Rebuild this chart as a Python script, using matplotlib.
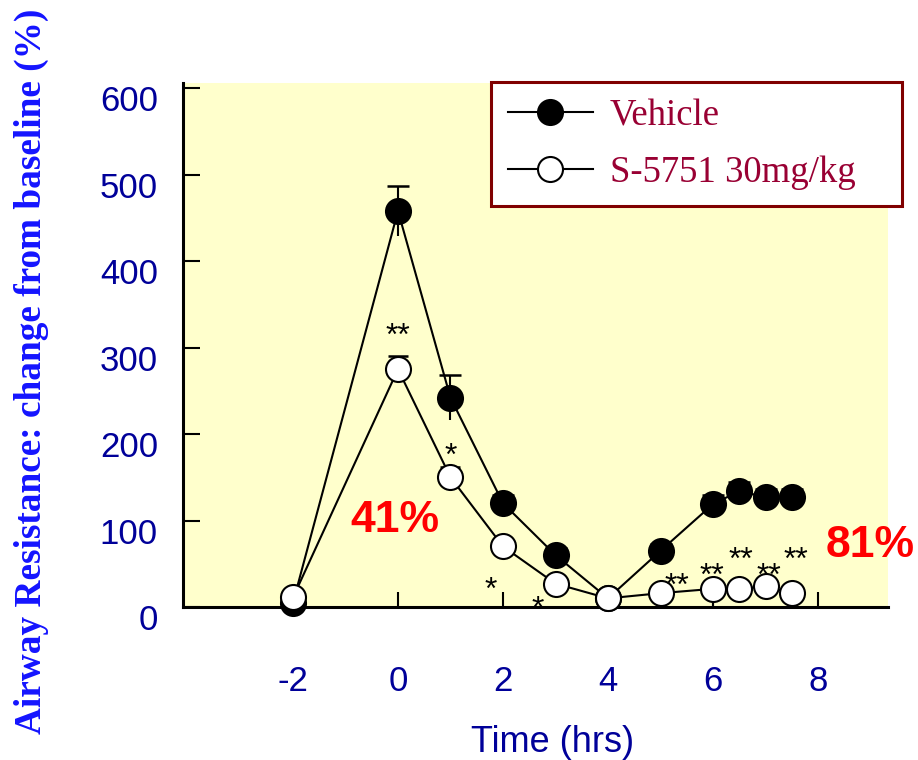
import matplotlib
matplotlib.use('Agg')
import matplotlib.pyplot as plt
from matplotlib.transforms import ScaledTranslation

plt.rcParams['axes.unicode_minus'] = False

# ---- data ----
time = [-2, 0, 1, 2, 3, 4, 5, 6, 6.5, 7, 7.5]
vehicle = [5, 458, 242, 120, 60, 10, 65, 119, 134, 127, 127]
vehicle_err = [3, 29, 26, 10, 8, 3, 8, 10, 10, 10, 10]
s5751 = [11, 275, 150, 70, 27, 10, 16, 21, 21, 24, 16]
s5751_err_low = [3, 15, 12, 6, 5, 3, 5, 21, 6, 6, 5]
s5751_err_up = [3, 15, 12, 6, 5, 3, 5, 5, 6, 6, 5]

xticks = [-2, 0, 2, 4, 6, 8]
yticks = [0, 100, 200, 300, 400, 500, 600]

star_x = [0, 1.01, 1.77, 2.67, 5.31, 5.98, 6.53, 7.07, 7.58]
star_y = [324, 186, 31, 9, 35, 47, 65, 47, 65]
star_txt = ['**', '*', '*', '*', '**', '**', '**', '**', '**']

pct_labels = ['41%', '81%']
pct_x = [-0.05, 9.0]
pct_y = [87, 58]

SANS = 'Liberation Sans'
SERIF = 'Liberation Serif'
NAVY = '#000099'

fig = plt.figure(figsize=(9.18, 7.6), dpi=100)
ax = fig.add_axes([183/918, 1-607/760, (888-183)/918, (607-83)/760])
ax.set_facecolor('#ffffcc')
ax.set_xlim(-4.095, 9.333)
ax.set_ylim(0, 606)

for s in ['top', 'right']:
    ax.spines[s].set_visible(False)
for s in ['left', 'bottom']:
    ax.spines[s].set_linewidth(2.2)
    ax.spines[s].set_color('black')

# error bars (behind markers)
ax.errorbar(time, vehicle, yerr=vehicle_err, fmt='none', ecolor='black',
            elinewidth=1.5, capsize=0, zorder=2.8, clip_on=False)
ax.errorbar(time, s5751, yerr=[s5751_err_low, s5751_err_up], fmt='none', ecolor='black',
            elinewidth=1.5, capsize=0, zorder=2.9, clip_on=False)
# upper caps
ax.plot(time, [v + e for v, e in zip(vehicle, vehicle_err)], linestyle='none',
        marker='_', markersize=16, markeredgewidth=1.8, color='black', zorder=2.8)
ax.plot(time, [v + e for v, e in zip(s5751, s5751_err_up)], linestyle='none',
        marker='_', markersize=15, markeredgewidth=1.8, color='black', zorder=2.9)

l1, = ax.plot(time, vehicle, color='black', lw=1.5, marker='o', markersize=18,
              markerfacecolor='black', markeredgecolor='black', markeredgewidth=1.5,
              zorder=3, clip_on=False, label='Vehicle')
l2, = ax.plot(time, s5751, color='black', lw=1.5, marker='o', markersize=18,
              markerfacecolor='white', markeredgecolor='black', markeredgewidth=1.5,
              zorder=4, clip_on=False, label='S-5751 30mg/kg')

ax.set_xticks(xticks)
ax.set_yticks(yticks)
ax.tick_params(axis='y', direction='in', length=12, width=1.5, pad=18,
               labelsize=25, labelcolor=NAVY)
ax.tick_params(axis='x', direction='in', length=11, width=1.5, pad=42,
               labelsize=25, labelcolor=NAVY)
for lab in ax.get_yticklabels():
    lab.set_fontfamily(SANS)
    lab.set_transform(lab.get_transform() + ScaledTranslation(0, -10/100, fig.dpi_scale_trans))
for lab in ax.get_xticklabels():
    lab.set_fontfamily(SANS)

STAR_FS = 23
for x, y, t in zip(star_x, star_y, star_txt):
    ax.annotate(t, (x, y), xytext=(0, -0.58*STAR_FS), textcoords='offset points',
                ha='center', va='baseline', fontsize=STAR_FS, family=SANS, color='black',
                zorder=6, annotation_clip=False)

for t, x, y in zip(pct_labels, pct_x, pct_y):
    ax.text(x, y, t, ha='center', va='baseline', fontsize=32, fontweight='bold',
            family=SANS, color='#ff0000', zorder=6, clip_on=False)

lh = 0.2
leg = ax.legend(handles=[l1, l2], loc='upper left',
                bbox_to_anchor=(491/918, 1-82/760 - lh, (902-491)/918, lh),
                bbox_transform=fig.transFigure, mode='expand', borderaxespad=0,
                prop={'family': SERIF, 'size': 26.5}, labelcolor='#990033',
                fancybox=False, framealpha=1, edgecolor='#800000', facecolor='white',
                numpoints=1, handlelength=2.33, handletextpad=0.45,
                borderpad=0.45, labelspacing=0.6)
leg.get_frame().set_linewidth(2.2)
leg.set_zorder(10)

fig.text(553/918, 1-742/760, 'Time (hrs)', ha='center', va='center', fontsize=26,
         family=SANS, color=NAVY)
fig.text(31/918, 1-371/760, 'Airway Resistance: change from baseline (%)', rotation=90,
         ha='center', va='center', fontsize=26.8, fontweight='bold', family=SERIF,
         color='#1414ff')

fig.savefig('out.png', dpi=100)
